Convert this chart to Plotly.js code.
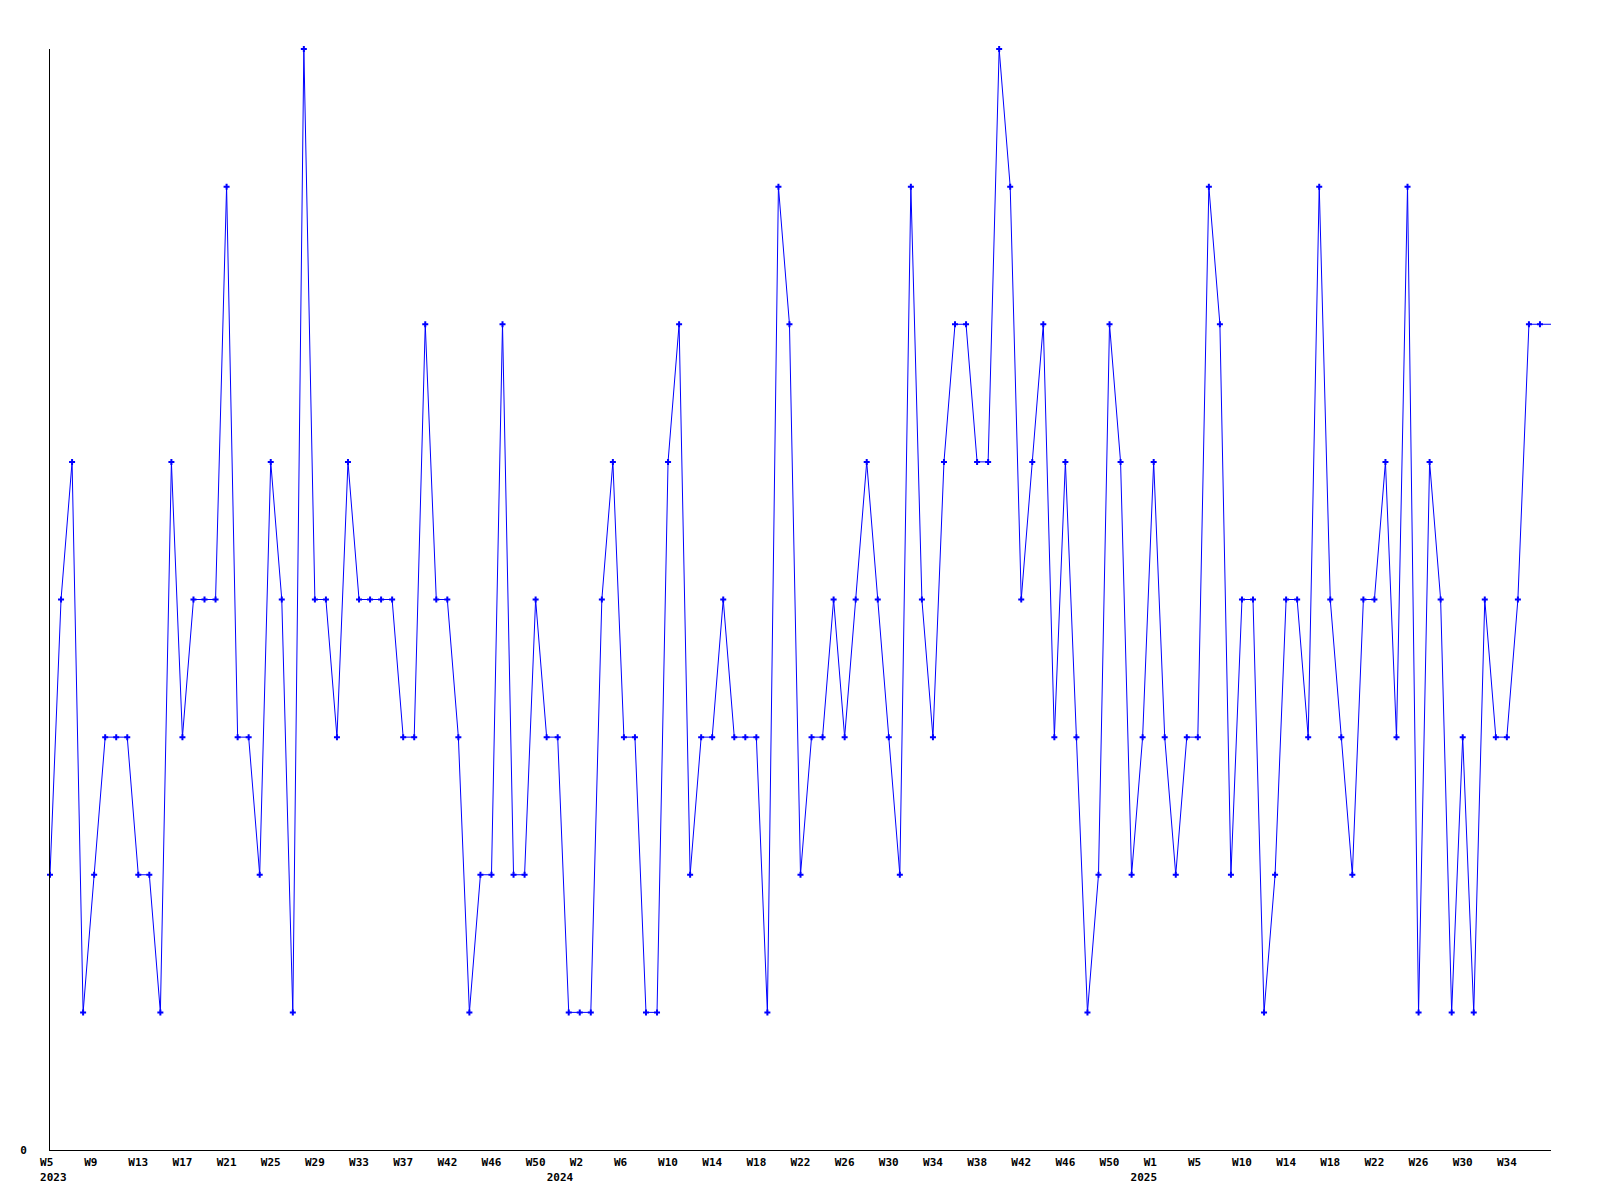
<!DOCTYPE html>
<html>
<head>
<meta charset="utf-8">
<script src="https://cdn.plot.ly/plotly-3.0.1.min.js"></script>
<style>
html,body{margin:0;padding:0;background:#fff;}
#chart{width:1600px;height:1200px;}
</style>
</head>
<body>
<div id="chart"></div>
<script>
// Weekly values, 2023 W5 .. 2025 W37
const values2023 = [2,4,5,1,2,3,3,3,2,2, 1,5,3,4,4,4,7,3,3,2, 5,4,1,8,4,4,3,5,4,4, 4,4,3,3,6,4,4,3,1,2, 2,6,2,2,4,3,3,1];
const values2024 = [1,1,4,5,3,3,1,1,5,6, 2,3,3,4,3,3,3,1,7,6, 2,3,3,4,3,4,5,4,3,2, 7,4,3,5,6,6,5,5,8,7, 4,5,6,3,5,3,1,2,6,5, 2,3];
const values2025 = [5,3,2,3,3,7,6,2,4,4, 1,2,4,4,3,7,4,3,2,4, 4,5,3,7,1,5,4,1,3,1, 4,3,3,4,6,6,6];

// Tick labels (one every 4 weeks) and year labels
const tickLabels = ["W5","W9","W13","W17","W21","W25","W29","W33","W37","W42","W46","W50",
  "W2","W6","W10","W14","W18","W22","W26","W30","W34","W38","W42","W46","W50",
  "W1","W5","W10","W14","W18","W22","W26","W30","W34"];
const yearLabels = {0: "2023", 12: "2024", 25: "2025"};

const values = values2023.concat(values2024, values2025);
const xs = values.map((_, i) => i);

// style helpers: pad labels so they sit like the bitmap-font original
const NB = "\u00A0";
const yearPad = {"2023": [1, 0], "2024": [0, 6], "2025": [0, 3]};
const tickStep = 4;
const tickvals = tickLabels.map((_, i) => i * tickStep);
const ticktext = tickLabels.map((t, i) => {
  let s = t.length < 3 ? t + NB.repeat(3 - t.length) : t;
  if (yearLabels[i] !== undefined) {
    const y = yearLabels[i];
    const p = yearPad[y];
    s += "<br>" + NB.repeat(p[0]) + y + NB.repeat(p[1]);
  }
  return s;
});

// line over all weeks (clipped at the plot edge), markers on all but the clipped last week
const lineTrace = {
  x: xs,
  y: values,
  type: "scatter",
  mode: "lines",
  line: {color: "#0000ff", width: 1},
  hoverinfo: "skip",
  cliponaxis: true
};
const markerTrace = {
  x: xs.slice(0, -1),
  y: values.slice(0, -1),
  type: "scatter",
  mode: "markers",
  marker: {color: "#0000ff", size: 5, symbol: "cross"},
  hoverinfo: "skip",
  cliponaxis: false
};

const tf = {family: "DejaVu Sans Mono", size: 11, color: "#000000", weight: "bold"};

const layout = {
  width: 1600,
  height: 1200,
  margin: {l: 50, r: 49, t: 49, b: 50, pad: 0},
  paper_bgcolor: "#ffffff",
  plot_bgcolor: "#ffffff",
  showlegend: false,
  font: tf,
  xaxis: {
    range: [0, values.length - 1],
    showgrid: false,
    zeroline: false,
    showline: true,
    linecolor: "#000000",
    linewidth: 1,
    ticks: "",
    tickmode: "array",
    tickvals: tickvals,
    ticktext: ticktext,
    tickangle: 0,
    ticklabelstandoff: 2,
    tickfont: tf,
    fixedrange: true
  },
  yaxis: {
    range: [0, 8],
    showgrid: false,
    zeroline: false,
    showline: true,
    linecolor: "#000000",
    linewidth: 1,
    ticks: "",
    tickmode: "array",
    tickvals: [0],
    ticktext: ["0"],
    ticklabelstandoff: 20,
    tickfont: tf,
    fixedrange: true
  }
};

Plotly.newPlot("chart", [lineTrace, markerTrace], layout, {staticPlot: true, displayModeBar: false});
</script>
</body>
</html>
